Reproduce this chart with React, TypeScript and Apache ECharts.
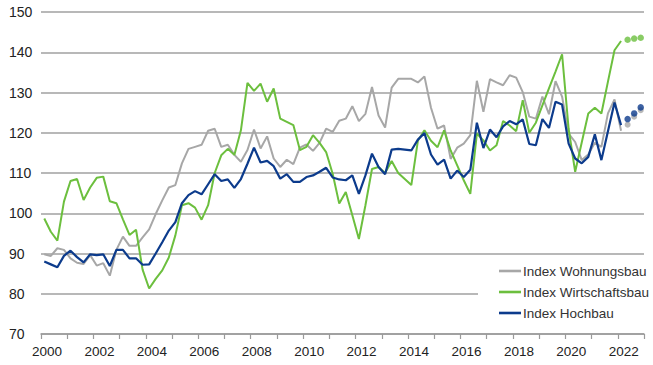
import React, { useEffect, useRef } from "react";
import * as echarts from "echarts";

const START_YEAR = 2000;
const yearLabels = ["2000", "2002", "2004", "2006", "2008", "2010", "2012", "2014", "2016", "2018", "2020", "2022"];

// Quarterly values, 2000 Q1 .. 2022 Q1
const wohnungsbau = [
  89.8, 89.4, 91.3, 90.9,
  88.8, 87.7, 87.4, 89.6,
  87.0, 87.6, 84.5, 90.9,
  94.2, 91.9, 91.9, 94.0,
  96.0, 99.8, 103.2, 106.4,
  107.0, 112.4, 116.0, 116.5,
  117.0, 120.5, 121.0, 116.5,
  117.0, 114.5, 112.8, 115.7,
  120.8, 116.1, 119.1, 113.6,
  111.5, 113.3, 112.2, 116.3,
  117.1, 115.5, 117.5, 121.0,
  120.2, 123.0, 123.5, 126.6,
  122.9, 124.7, 131.4, 124.3,
  121.3, 131.2, 133.4, 133.4,
  133.4, 132.5, 134.0, 126.2,
  121.0, 121.8, 113.5, 116.3,
  117.3, 119.4, 132.9, 125.2,
  133.3, 132.5, 131.8, 134.3,
  133.7, 130.1, 124.0, 123.5,
  129.0, 124.6, 132.8, 129.0,
  119.8, 117.7, 113.2, 114.6,
  117.5, 116.5, 124.8, 128.3,
  120.5,
];

const wirtschaftsbau = [
  98.7, 95.4, 93.2, 102.9,
  108.0, 108.5, 103.3, 106.4,
  108.8, 109.1, 103.0, 102.5,
  98.5, 94.6, 95.9, 86.0,
  81.3, 83.7, 85.8, 89.0,
  94.5, 102.0, 102.5, 101.4,
  98.4, 102.0, 110.0, 114.4,
  116.0, 114.5, 120.6, 132.4,
  130.4, 132.2, 127.7, 131.0,
  123.5, 122.7, 121.9, 115.7,
  116.5, 119.4, 117.5, 115.2,
  109.8, 102.4, 105.3, 99.5,
  93.6, 102.0, 111.0, 111.5,
  110.0, 113.0, 110.0, 108.5,
  107.0, 118.0, 120.6, 118.0,
  116.4, 120.6, 115.6, 111.9,
  108.2, 104.8, 119.8, 118.1,
  115.6, 116.9, 122.9, 121.8,
  120.4, 128.1, 120.0, 122.5,
  126.8, 131.0, 135.2, 139.5,
  121.0, 110.3, 117.6, 124.8,
  126.2, 124.8, 132.7, 140.5,
  142.8,
];

const hochbau = [
  88.0, 87.3, 86.6, 89.4,
  90.7, 89.1, 87.8, 89.8,
  89.6, 89.8, 86.9, 90.9,
  90.9, 88.8, 88.8, 87.2,
  87.3, 90.0, 92.8, 95.7,
  97.8, 102.5, 104.5, 105.5,
  104.7, 107.2, 109.7, 108.0,
  108.4, 106.3, 108.5, 112.3,
  116.3, 112.6, 113.0, 111.7,
  108.6, 109.7, 107.8, 107.8,
  109.0, 109.4, 110.3, 111.3,
  108.9, 108.4, 108.2, 109.4,
  104.8, 109.4, 114.8, 111.5,
  109.7, 115.8, 116.0, 115.8,
  115.6, 118.3, 119.9, 114.6,
  112.1, 113.3, 108.6, 110.6,
  109.0, 110.8, 122.5, 116.2,
  120.8, 118.9, 121.6, 122.9,
  122.1, 123.3, 117.2, 116.9,
  123.4, 121.2, 127.7, 127.0,
  117.3, 113.6, 112.4, 114.0,
  119.6, 113.2, 120.4, 127.5,
  121.9,
];

// Forecast dots, 2022 Q2 .. Q4
const forecastWohnungsbau = [122.0, 124.0, 125.6];
const forecastWirtschaftsbau = [143.1, 143.4, 143.6];
const forecastHochbau = [123.4, 124.8, 126.3];

const GRAY = "#a7a7a7";
const GREEN = "#6cbf3e";
const BLUE = "#0c3b8c";

const LEGEND_ICON = "path://M0,0 L22,0 L22,2.6 L0,2.6 Z";

const toPoints = (vals: number[], offset = 0) =>
  vals.map((v, i) => [START_YEAR + (i + offset + 0.5) / 4, v]);

export default function App() {
  const ref = useRef<HTMLDivElement>(null);
  useEffect(() => {
    if (!ref.current) return;
    const chart = echarts.init(ref.current, undefined, { renderer: "svg" });
    const n = wohnungsbau.length;
    const font = "'Liberation Sans', Arial, sans-serif";
    chart.setOption({
      animation: false,
      backgroundColor: "#fff",
      grid: { left: 41, right: 9, top: 12, bottom: 31, containLabel: false },
      xAxis: {
        type: "value",
        min: 2000,
        max: 2023,
        interval: 1,
        axisLine: { show: true, lineStyle: { color: "#9a9a9a", width: 1.5 } },
        axisTick: { show: true, inside: false, length: 5, lineStyle: { color: "#9a9a9a", width: 1.2 } },
        splitLine: { show: false },
        axisLabel: {
          color: "#222",
          fontSize: 13.5,
          fontFamily: font,
          margin: 10,
          padding: [0, 0, 0, 12],
          formatter: (v: number) => (yearLabels.includes(String(v)) ? String(v) : ""),
        },
      },
      yAxis: {
        type: "value",
        min: 70,
        max: 150,
        interval: 10,
        axisLine: { show: false },
        axisTick: { show: false },
        splitLine: { show: true, lineStyle: { color: "#a0a0a0", width: 1.5 } },
        axisLabel: {
          color: "#222",
          fontSize: 14,
          fontFamily: font,
          align: "left",
          margin: 32,
        },
      },
      legend: {
        orient: "vertical",
        left: 478,
        top: 258,
        padding: [6, 8, 6, 21],
        backgroundColor: "#fff",
        itemWidth: 22,
        itemHeight: 14,
        itemGap: 7,
        data: [
          { name: "Index Wohnungsbau", icon: LEGEND_ICON },
          { name: "Index Wirtschaftsbau", icon: LEGEND_ICON },
          { name: "Index Hochbau", icon: LEGEND_ICON },
        ],
        textStyle: { color: "#333", fontSize: 13.5, fontFamily: font, padding: [0, 0, 0, -3] },
      },
      series: [
        {
          name: "Index Wohnungsbau",
          type: "line",
          data: toPoints(wohnungsbau),
          symbol: "none",
          lineStyle: { color: GRAY, width: 2 },
          itemStyle: { color: GRAY },
          z: 2,
        },
        {
          name: "Index Wirtschaftsbau",
          type: "line",
          data: toPoints(wirtschaftsbau),
          symbol: "none",
          lineStyle: { color: GREEN, width: 2 },
          itemStyle: { color: GREEN },
          z: 3,
        },
        {
          name: "Index Hochbau",
          type: "line",
          data: toPoints(hochbau),
          symbol: "none",
          lineStyle: { color: BLUE, width: 2.2 },
          itemStyle: { color: BLUE },
          z: 4,
        },
        {
          name: "Prognose Wohnungsbau",
          type: "scatter",
          data: toPoints(forecastWohnungsbau, n),
          symbolSize: 6,
          itemStyle: { color: GRAY },
          z: 2,
        },
        {
          name: "Prognose Wirtschaftsbau",
          type: "scatter",
          data: toPoints(forecastWirtschaftsbau, n),
          symbolSize: 6.5,
          itemStyle: { color: GREEN },
          z: 3,
        },
        {
          name: "Prognose Hochbau",
          type: "scatter",
          data: toPoints(forecastHochbau, n),
          symbolSize: 6.5,
          itemStyle: { color: BLUE },
          z: 4,
        },
      ],
    });
    return () => chart.dispose();
  }, []);
  return (
    <div
      ref={ref}
      style={{ position: "fixed", left: 0, top: 0, width: 653, height: 365, background: "#fff" }}
    />
  );
}
